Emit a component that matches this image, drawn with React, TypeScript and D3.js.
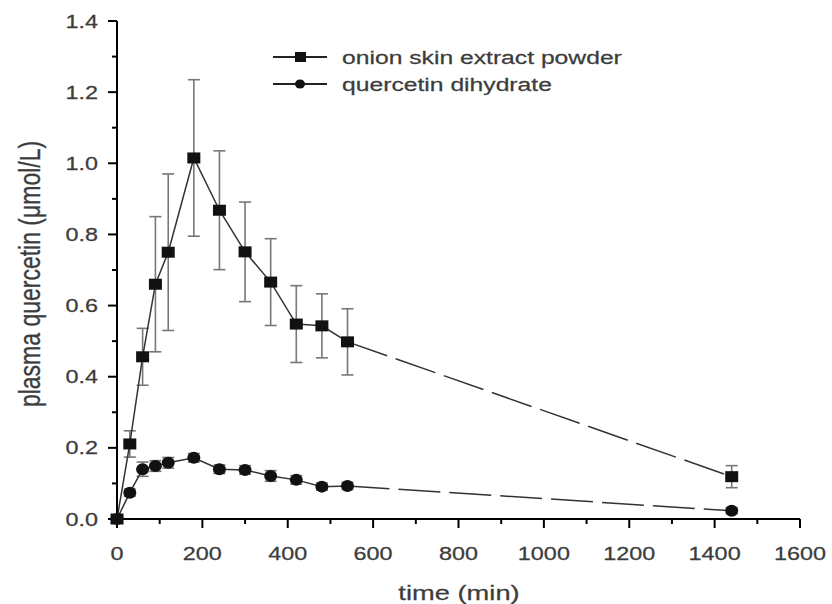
import React from "react";
import * as d3 from "d3";

const times = [0, 30, 60, 90, 120, 180, 240, 300, 360, 420, 480, 540, 1440];
const onion = [0, 0.211, 0.456, 0.66, 0.75, 1.015, 0.868, 0.751, 0.666, 0.548, 0.543, 0.498, 0.119];
const onionErr = [0, 0.037, 0.08, 0.19, 0.22, 0.22, 0.167, 0.14, 0.122, 0.108, 0.09, 0.093, 0.031];
const quercetin = [0, 0.074, 0.14, 0.149, 0.158, 0.172, 0.14, 0.138, 0.121, 0.11, 0.091, 0.093, 0.023];
const quercetinErr = [0, 0.01, 0.02, 0.015, 0.015, 0.012, 0.012, 0.012, 0.015, 0.012, 0.01, 0.01, 0.008];
const xTicks = [0, 200, 400, 600, 800, 1000, 1200, 1400, 1600];
const xMinor = [100, 300, 500, 700, 900, 1100, 1300, 1500];
const yTicks = [0, 0.2, 0.4, 0.6, 0.8, 1.0, 1.2, 1.4];
const yMinor = [0.1, 0.3, 0.5, 0.7, 0.9, 1.1, 1.3];
const seriesNames = ["onion skin extract powder", "quercetin dihydrate"];

const FONT = "'Liberation Sans', Arial, sans-serif";
const SX = 1.3;
const TXT = "#3c3c3c";

function SText({ x, y, size, anchor = "start", children, rotate = false }: any) {
  const t = rotate
    ? `translate(${x},${y}) scale(${SX},1) rotate(-90)`
    : `translate(${x},${y}) scale(${SX},1)`;
  return (
    <text
      transform={t}
      fontSize={size}
      fontFamily={FONT}
      fill={TXT}
      stroke={TXT}
      strokeWidth={0.25}
      textAnchor={anchor}
    >
      {children}
    </text>
  );
}

export default function App() {
  const x = d3.scaleLinear().domain([0, 1600]).range([117, 800]);
  const y = d3.scaleLinear().domain([0, 1.4]).range([519, 21]);
  const solidIdx = times.map((t, i) => i).filter((i) => times[i] <= 540);
  const dashIdx = times.map((t, i) => i).filter((i) => times[i] >= 540);

  const pathFor = (vals: number[], idx: number[]) =>
    d3
      .line<number>()
      .x((i) => x(times[i]))
      .y((i) => y(vals[i]))(idx) as string;

  const series = [
    { vals: onion, err: onionErr, shape: "square" },
    { vals: quercetin, err: quercetinErr, shape: "circle" },
  ];

  const marker = (shape: string, cx: number, cy: number, key: any) =>
    shape === "square" ? (
      <rect key={key} x={cx - 6.5} y={cy - 5.5} width={13} height={11} fill="#111" />
    ) : (
      <ellipse key={key} cx={cx} cy={cy} rx={6.5} ry={6} fill="#111" />
    );

  return (
    <svg
      width={832}
      height={604}
      style={{ position: "absolute", left: 0, top: 0, background: "#fff" }}
    >
      <rect width={832} height={604} fill="#fff" />
      {/* error bars */}
      {series.map((s, si) =>
        s.vals.map((v, i) =>
          s.err[i] > 0 ? (
            <g key={`e${si}-${i}`} stroke="#777" strokeWidth={1.6}>
              <line x1={x(times[i])} x2={x(times[i])} y1={y(v + s.err[i])} y2={y(v - s.err[i])} />
              <line x1={x(times[i]) - 6} x2={x(times[i]) + 6} y1={y(v + s.err[i])} y2={y(v + s.err[i])} />
              <line x1={x(times[i]) - 6} x2={x(times[i]) + 6} y1={y(v - s.err[i])} y2={y(v - s.err[i])} />
            </g>
          ) : null
        )
      )}
      {/* lines */}
      {series.map((s, si) => (
        <g key={`l${si}`} fill="none" stroke="#333" strokeWidth={1.5}>
          <path d={pathFor(s.vals, solidIdx)} />
          <path d={pathFor(s.vals, dashIdx)} strokeDasharray="42 9" />
        </g>
      ))}
      {/* axes */}
      <g stroke="#000" strokeWidth={2}>
        <line x1={x(0)} x2={x(0)} y1={y(0) + 1} y2={y(1.4)} />
        <line x1={x(0) - 1} x2={x(1600)} y1={y(0)} y2={y(0)} />
        {yTicks.map((t) => (
          <line key={`yt${t}`} x1={x(0) - 9} x2={x(0)} y1={y(t)} y2={y(t)} />
        ))}
        {yMinor.map((t) => (
          <line key={`ym${t}`} x1={x(0) - 5} x2={x(0)} y1={y(t)} y2={y(t)} />
        ))}
        {xTicks.map((t) => (
          <line key={`xt${t}`} x1={x(t)} x2={x(t)} y1={y(0)} y2={y(0) + 9} />
        ))}
        {xMinor.map((t) => (
          <line key={`xm${t}`} x1={x(t)} x2={x(t)} y1={y(0)} y2={y(0) + 5} />
        ))}
      </g>
      {/* markers */}
      {series.map((s, si) => s.vals.map((v, i) => marker(s.shape, x(times[i]), y(v), `m${si}-${i}`)))}
      {/* tick labels */}
      {yTicks.map((t) => (
        <SText key={`yl${t}`} x={98} y={y(t) + 6.5} size={18} anchor="end">
          {t.toFixed(1)}
        </SText>
      ))}
      {xTicks.map((t) => (
        <SText key={`xl${t}`} x={x(t)} y={560} size={18} anchor="middle">
          {String(t)}
        </SText>
      ))}
      {/* axis titles */}
      <SText x={459} y={600} size={21} anchor="middle">
        time (min)
      </SText>
      <SText x={40} y={274} size={23} anchor="middle" rotate>
        plasma quercetin (μmol/L)
      </SText>
      {/* legend */}
      {seriesNames.map((n, i) => {
        const ly = 57 + i * 27;
        return (
          <g key={`lg${i}`}>
            <line x1={273} x2={327} y1={ly} y2={ly} stroke="#222" strokeWidth={1.8} />
            {i === 0 ? (
              <rect x={295} y={ly - 5} width={11} height={10} fill="#111" />
            ) : (
              <ellipse cx={300} cy={ly} rx={5} ry={4.5} fill="#111" />
            )}
            <SText x={342} y={ly + 6.5} size={19}>
              {n}
            </SText>
          </g>
        );
      })}
    </svg>
  );
}
